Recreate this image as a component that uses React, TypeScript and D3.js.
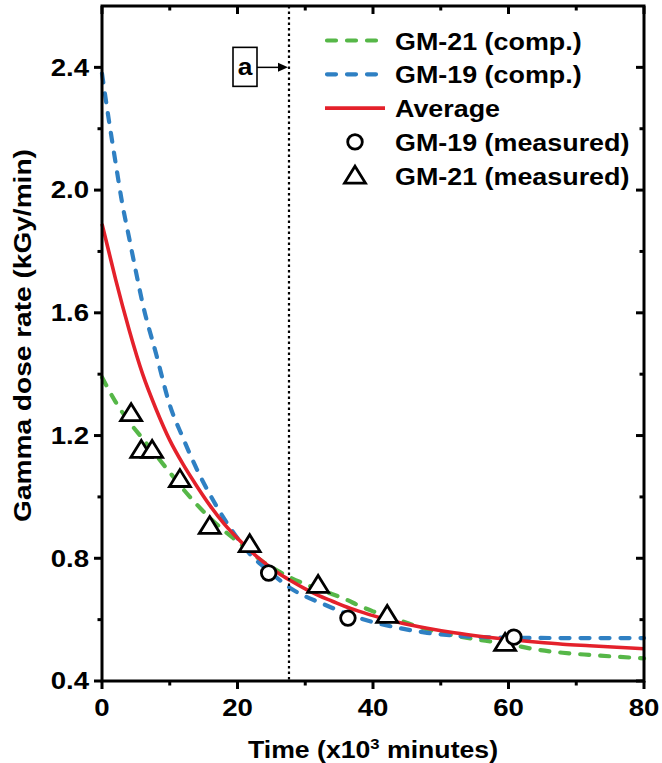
import React from "react";
import * as d3 from "d3";

const gm21CompT = [0, 2, 4, 6, 8, 10, 12, 14, 16, 18, 20, 22, 24, 26, 28, 30, 32, 34, 36, 38, 40, 44, 48, 52, 56, 60, 64, 68, 72, 76, 80];
const gm21CompV = [1.39, 1.31, 1.245, 1.19, 1.135, 1.08, 1.025, 0.975, 0.93, 0.89, 0.855, 0.818, 0.785, 0.758, 0.735, 0.716, 0.698, 0.683, 0.666, 0.645, 0.627, 0.597, 0.568, 0.548, 0.533, 0.52, 0.503, 0.492, 0.485, 0.479, 0.474];

const gm19CompT = [0, 1, 2, 3, 4, 5, 6, 8, 10, 12, 14, 16, 18, 20, 22, 24, 26, 28, 30, 32, 34, 36, 38, 40, 44, 48, 52, 56, 60, 70, 80];
const gm19CompV = [2.38, 2.23, 2.09, 1.955, 1.845, 1.735, 1.63, 1.465, 1.3, 1.19, 1.09, 1.005, 0.93, 0.865, 0.81, 0.77, 0.733, 0.7, 0.676, 0.657, 0.638, 0.62, 0.605, 0.592, 0.572, 0.557, 0.548, 0.543, 0.541, 0.54, 0.54];

const avgT = [0, 1, 2, 3, 4, 6, 8, 10, 12, 14, 16, 18, 20, 22, 24, 26, 28, 30, 32, 34, 36, 38, 40, 44, 48, 52, 56, 60, 64, 68, 72, 76, 80];
const avgV = [1.89, 1.8, 1.71, 1.625, 1.545, 1.4, 1.285, 1.185, 1.105, 1.035, 0.97, 0.913, 0.865, 0.822, 0.785, 0.752, 0.725, 0.7, 0.678, 0.66, 0.642, 0.627, 0.613, 0.59, 0.572, 0.557, 0.545, 0.535, 0.527, 0.52, 0.515, 0.51, 0.505];

const gm19MeasT = [24.6, 36.3, 60.8];
const gm19MeasV = [0.752, 0.605, 0.543];

const gm21MeasT = [4.3, 5.8, 7.4, 11.5, 15.9, 21.8, 31.9, 42.1, 59.5];
const gm21MeasV = [1.273, 1.153, 1.153, 1.058, 0.905, 0.846, 0.713, 0.615, 0.524];

const xTicks = [0, 20, 40, 60, 80];
const xMinor = [10, 30, 50, 70];
const yTicks = [0.4, 0.8, 1.2, 1.6, 2.0, 2.4];
const yMinor = [0.6, 1.0, 1.4, 1.8, 2.2];
const markerTime = 27.6;
const markerLabel = "a";

const legendItems = [
  { label: "GM-21 (comp.)", kind: "dash", color: "#56b748" },
  { label: "GM-19 (comp.)", kind: "dash", color: "#2f80c3" },
  { label: "Average", kind: "solid", color: "#e4212b" },
  { label: "GM-19 (measured)", kind: "circle", color: "#000" },
  { label: "GM-21 (measured)", kind: "triangle", color: "#000" },
];

const W = 662;
const H = 763;
const L = 102, R = 644, T = 6, B = 681;
const FONT = "'Liberation Sans', Arial, sans-serif";

function SText(props: { x: number; y: number; sx: number; size: number; anchor?: string; rotate?: number; children: React.ReactNode }) {
  const { x, y, sx, size, anchor, rotate, children } = props;
  return (
    <g transform={`translate(${x},${y})${rotate ? ` rotate(${rotate})` : ""} scale(${sx},1)`}>
      <text x={0} y={0} textAnchor={anchor || "start"} fontSize={size} fontWeight="bold" fill="#000">
        {children}
      </text>
    </g>
  );
}

export default function App() {
  const x = d3.scaleLinear().domain([0, 80]).range([L, R]);
  const y = d3.scaleLinear().domain([0.4, 2.6]).range([B, T]);
  const line = d3
    .line<[number, number]>()
    .x((d) => x(d[0]))
    .y((d) => y(d[1]))
    .curve(d3.curveMonotoneX);
  const zip = (a: number[], b: number[]) => a.map((t, i) => [t, b[i]] as [number, number]);
  const tri = (cx: number, cy: number) => {
    const s = 9.5;
    return `M${cx},${cy - s}L${cx + s * 1.1},${cy + s * 0.78}L${cx - s * 1.1},${cy + s * 0.78}Z`;
  };
  const ay = y(2.4);
  const mx = x(markerTime);

  return (
    <div style={{ position: "absolute", left: 0, top: 0 }}>
      <svg width={W} height={H} style={{ display: "block", fontFamily: FONT }}>
        <rect width={W} height={H} fill="#fff" />
        {/* curves */}
        <path d={line(zip(gm21CompT, gm21CompV)) || ""} fill="none" stroke={legendItems[0].color} strokeWidth={4.2} strokeDasharray="9 11" strokeLinecap="round" />
        <path d={line(zip(gm19CompT, gm19CompV)) || ""} fill="none" stroke={legendItems[1].color} strokeWidth={4.2} strokeDasharray="9 11" strokeLinecap="round" />
        <path d={line(zip(avgT, avgV)) || ""} fill="none" stroke={legendItems[2].color} strokeWidth={3.6} />
        {/* marker line */}
        <line x1={mx} x2={mx} y1={T} y2={B} stroke="#000" strokeWidth={2.2} strokeDasharray="2.5 3" />
        {/* measured points */}
        {gm21MeasT.map((t, i) => (
          <path key={"t" + i} d={tri(x(t), y(gm21MeasV[i]))} fill="#fff" stroke="#000" strokeWidth={2.8} strokeLinejoin="miter" />
        ))}
        {gm19MeasT.map((t, i) => (
          <circle key={"c" + i} cx={x(t)} cy={y(gm19MeasV[i])} r={7.3} fill="#fff" stroke="#000" strokeWidth={2.8} />
        ))}
        {/* annotation a */}
        <rect x={233} y={ay - 20} width={24} height={39} fill="#fff" stroke="#000" strokeWidth={1.6} />
        <SText x={245} y={ay + 8} sx={1.1} size={24} anchor="middle">{markerLabel}</SText>
        <line x1={257} x2={mx - 9} y1={ay} y2={ay} stroke="#000" strokeWidth={1.5} />
        <path d={`M${mx - 1},${ay}L${mx - 11},${ay - 4.5}L${mx - 11},${ay + 4.5}Z`} fill="#000" />
        {/* frame */}
        <rect x={L} y={T} width={R - L} height={B - T} fill="none" stroke="#000" strokeWidth={3} />
        {/* x ticks */}
        {xTicks.map((t) => (
          <g key={"xt" + t}>
            <line x1={x(t)} x2={x(t)} y1={B} y2={B + 8} stroke="#000" strokeWidth={3} />
            <line x1={x(t)} x2={x(t)} y1={T} y2={T + 8} stroke="#000" strokeWidth={3} />
            <SText x={x(t)} y={B + 35} sx={1.2} size={23} anchor="middle">{t}</SText>
          </g>
        ))}
        {xMinor.map((t) => (
          <g key={"xm" + t}>
            <line x1={x(t)} x2={x(t)} y1={B} y2={B + 4.5} stroke="#000" strokeWidth={3} />
            <line x1={x(t)} x2={x(t)} y1={T} y2={T + 4.5} stroke="#000" strokeWidth={3} />
          </g>
        ))}
        {yTicks.map((v) => (
          <g key={"yt" + v}>
            <line x1={L - 8} x2={L} y1={y(v)} y2={y(v)} stroke="#000" strokeWidth={3} />
            <line x1={R - 8} x2={R} y1={y(v)} y2={y(v)} stroke="#000" strokeWidth={3} />
            <SText x={L - 13} y={y(v) + 8.3} sx={1.2} size={23} anchor="end">{v.toFixed(1)}</SText>
          </g>
        ))}
        {yMinor.map((v) => (
          <g key={"ym" + v}>
            <line x1={L - 4.5} x2={L} y1={y(v)} y2={y(v)} stroke="#000" strokeWidth={3} />
            <line x1={R - 4.5} x2={R} y1={y(v)} y2={y(v)} stroke="#000" strokeWidth={3} />
          </g>
        ))}
        {/* axis titles */}
        <SText x={(L + R) / 2} y={758} sx={1.11} size={24} anchor="middle">
          Time (x10<tspan dy={-9} fontSize={15}>3</tspan><tspan dy={9}> minutes)</tspan>
        </SText>
        <SText x={31} y={(T + B) / 2 - 8} sx={1.17} size={24} anchor="middle" rotate={-90}>
          Gamma dose rate (kGy/min)
        </SText>
        {/* legend */}
        {legendItems.map((it, i) => {
          const cy = 40.5 + i * 33.8;
          return (
            <g key={"lg" + i}>
              {it.kind === "dash" && (
                <line x1={327} x2={383} y1={cy} y2={cy} stroke={it.color} strokeWidth={4.2} strokeDasharray="9 11" strokeLinecap="round" />
              )}
              {it.kind === "solid" && <line x1={325} x2={385} y1={cy} y2={cy} stroke={it.color} strokeWidth={3.6} />}
              {it.kind === "circle" && <circle cx={355} cy={cy} r={7.3} fill="#fff" stroke="#000" strokeWidth={2.8} />}
              {it.kind === "triangle" && <path d={tri(355, cy)} fill="#fff" stroke="#000" strokeWidth={2.8} />}
              <SText x={395} y={cy + 9} sx={1.12} size={24}>{it.label}</SText>
            </g>
          );
        })}
      </svg>
    </div>
  );
}
